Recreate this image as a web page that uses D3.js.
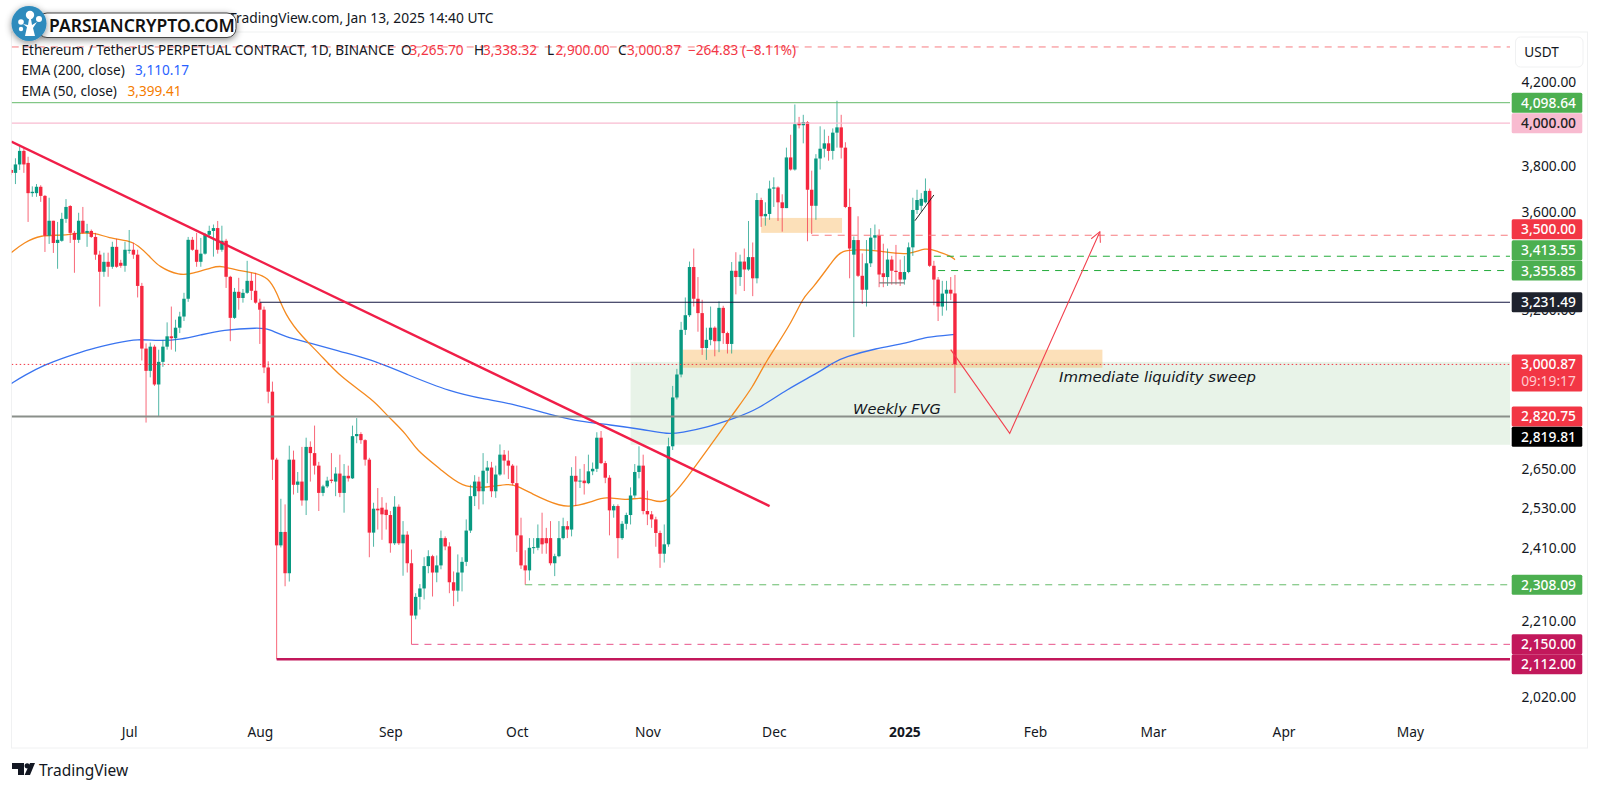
<!DOCTYPE html>
<html><head><meta charset="utf-8">
<script src="https://cdn.jsdelivr.net/npm/d3@7/dist/d3.min.js"></script>
<style>html,body{margin:0;padding:0;background:#fff}svg{display:block}</style>
</head><body><svg id="c" width="1600" height="790"></svg>
<script>
// daily candles, first bar 2024-06-03
const firstDay = "2024-06-03";
const opens = [3783,3770,3808,3870,3815,3680,3680,3708,3668,3498,
3561,3468,3477,3569,3624,3510,3481,3561,3510,3518,
3493,3420,3351,3391,3371,3452,3387,3375,3436,3440,
3420,3295,3058,2978,3065,2930,3010,3065,3103,3096,
3135,3177,3245,3481,3440,3391,3424,3502,3518,3530,
3440,3477,3331,3172,3272,3248,3268,3315,3276,3230,
3203,2990,2905,2679,2419,2458,2340,2679,2600,2610,
2552,2720,2700,2660,2575,2595,2616,2610,2635,2575,
2628,2620,2755,2762,2742,2679,2456,2527,2530,2524,
2508,2425,2533,2425,2450,2368,2225,2275,2298,2360,
2388,2342,2362,2440,2416,2315,2292,2342,2372,2462,
2565,2610,2580,2644,2654,2580,2632,2695,2676,2660,
2605,2448,2362,2348,2411,2412,2440,2440,2440,2368,
2388,2440,2475,2465,2628,2610,2613,2605,2642,2650,
2750,2668,2622,2522,2535,2440,2482,2508,2567,2640,
2660,2520,2510,2495,2455,2395,2422,2722,2885,2965,
3127,3182,3370,3245,3190,3060,3090,3135,3085,3210,
3115,3075,3355,3330,3392,3360,3410,3325,3650,3580,
3590,3700,3705,3640,3615,3840,3785,4002,3990,4005,
3695,3625,3835,3880,3905,3870,3955,3980,3885,3620,
3420,3480,3335,3280,3385,3490,3500,3345,3330,3400,
3355,3350,3320,3350,3450,3607,3625,3640,3690,3375,
3320,3215,3265,3280,3265.70];
const closes = [3770,3808,3870,3808,3680,3686,3708,3668,3498,3561,
3468,3481,3569,3620,3510,3481,3561,3510,3518,3493,
3420,3351,3391,3371,3452,3371,3375,3440,3440,3420,
3295,3058,2978,3065,2930,3010,3065,3103,3096,3135,
3177,3245,3481,3440,3391,3424,3502,3518,3530,3440,
3477,3331,3172,3272,3248,3268,3315,3276,3230,3203,
2990,2905,2679,2419,2458,2340,2679,2600,2610,2552,
2720,2700,2660,2575,2595,2613,2612,2635,2575,2628,
2620,2755,2762,2742,2679,2456,2527,2522,2510,2508,
2425,2533,2425,2450,2368,2225,2275,2298,2360,2388,
2342,2362,2440,2416,2315,2292,2342,2372,2462,2565,
2610,2580,2644,2654,2580,2632,2695,2676,2660,2605,
2448,2362,2348,2412,2414,2440,2422,2425,2368,2388,
2440,2475,2465,2628,2610,2613,2605,2642,2650,2750,
2668,2622,2522,2535,2440,2482,2508,2567,2640,2660,
2520,2510,2495,2455,2395,2422,2722,2885,2965,3127,
3182,3370,3245,3190,3060,3090,3135,3085,3210,3115,
3075,3355,3330,3392,3360,3410,3325,3650,3580,3590,
3700,3705,3640,3615,3840,3785,3995,3990,4005,3695,
3625,3835,3880,3905,3870,3955,3980,3885,3620,3445,
3480,3335,3280,3385,3490,3500,3340,3330,3400,3355,
3350,3320,3350,3450,3607,3650,3655,3690,3375,3320,
3215,3265,3280,3265,3000.87];
const highs = [3790,3836,3895,3882,3843,3710,3720,3715,3672,3660,
3561,3556,3595,3654,3628,3518,3595,3620,3548,3524,
3510,3436,3428,3428,3473,3485,3399,3473,3522,3469,
3440,3307,3077,3080,3072,3054,3090,3155,3215,3165,
3195,3268,3493,3493,3510,3489,3510,3540,3545,3560,
3540,3485,3335,3287,3327,3283,3395,3347,3347,3245,
3215,3012,2940,2685,2557,2540,2724,2708,2640,2720,
2750,2738,2790,2672,2600,2625,2700,2655,2695,2665,
2660,2790,2815,2768,2745,2685,2545,2590,2562,2545,
2520,2565,2540,2490,2460,2407,2285,2310,2385,2405,
2392,2390,2462,2445,2428,2345,2393,2385,2495,2600,
2630,2625,2700,2675,2672,2660,2728,2710,2708,2665,
2660,2500,2405,2440,2440,2480,2515,2470,2490,2395,
2490,2500,2490,2655,2690,2650,2665,2695,2670,2768,
2772,2675,2630,2540,2540,2490,2515,2592,2665,2722,
2695,2582,2520,2503,2462,2480,2750,2925,2985,3157,
3250,3392,3445,3330,3241,3135,3215,3140,3235,3218,
3120,3390,3430,3420,3445,3560,3470,3680,3660,3640,
3735,3750,3710,3675,3885,3945,4090,4030,4040,4010,
3780,3855,3985,3970,3940,3975,4108,4040,3910,3700,
3495,3580,3425,3480,3530,3545,3525,3465,3445,3415,
3460,3400,3415,3470,3660,3695,3680,3745,3700,3395,
3330,3315,3315,3330,3338.32];
const lows = [3760,3720,3783,3770,3556,3664,3664,3642,3431,3464,
3427,3363,3473,3552,3468,3347,3468,3506,3452,3489,
3399,3215,3331,3331,3363,3367,3367,3351,3424,3403,
3250,3015,2800,2955,2925,2820,2992,3054,3054,3047,
3115,3160,3233,3436,3371,3371,3420,3490,3412,3424,
3432,3287,3085,3168,3203,3230,3264,3240,3226,3075,
2970,2865,2615,2112,2413,2304,2317,2570,2575,2536,
2508,2610,2632,2520,2565,2590,2605,2565,2562,2515,
2610,2618,2732,2730,2660,2385,2415,2465,2435,2465,
2398,2420,2420,2333,2342,2150,2215,2241,2268,2340,
2276,2315,2351,2405,2285,2250,2262,2290,2360,2455,
2535,2525,2540,2605,2562,2560,2628,2632,2618,2598,
2400,2352,2308,2320,2395,2405,2395,2395,2362,2332,
2385,2436,2440,2445,2535,2590,2570,2602,2630,2640,
2665,2605,2448,2500,2382,2435,2465,2480,2560,2620,
2510,2478,2470,2415,2355,2370,2415,2710,2878,2955,
3108,3175,3215,3120,3035,3017,3070,3030,3045,3075,
3040,3040,3262,3295,3275,3355,3255,3305,3535,3540,
3565,3620,3560,3515,3615,3780,3780,3975,3905,3475,
3505,3565,3785,3840,3825,3830,3885,3835,3615,3325,
3100,3330,3225,3215,3370,3440,3290,3290,3295,3300,
3300,3295,3300,3345,3415,3590,3600,3635,3370,3220,
3160,3180,3200,3240,2900];

// EMA samples: [days after 2024-07-01, price]
const ema50 = [[-28,3428],[-25,3469],[-21,3502],[-16,3498],[-12,3510],[-8,3510],[-5,3489],[0,3477],[2,3460],[5,3411],[7,3371],[12,3335],[15,3343],[20,3371],[22,3375],[26,3355],[30,3347],[33,3327],[35,3272],[37,3184],[41,3101],[45,3043],[50,2957],[58,2877],[61,2826],[66,2760],[68,2711],[74,2648],[79,2591],[85,2591],[90,2604],[92,2597],[96,2570],[99,2552],[104,2527],[110,2549],[113,2564],[118,2552],[121,2561],[124,2555],[127,2540],[131,2594],[144,2843],[148,2919],[151,3010],[157,3146],[160,3253],[162,3280],[167,3395],[169,3440],[174,3440],[178,3436],[185,3415],[189,3452],[192,3432],[195,3415],[196,3399.41]];
const ema200 = [[-28,2933],[-25,2961],[-20,3000],[-15,3028],[-9,3058],[-3,3079],[2,3094],[7,3086],[12,3090],[17,3108],[22,3127],[31,3135],[33,3131],[37,3101],[43,3079],[50,3047],[57,3021],[66,2965],[76,2905],[85,2877],[90,2867],[101,2823],[107,2803],[114,2793],[122,2777],[128,2761],[131,2767],[137,2783],[144,2816],[149,2843],[156,2912],[164,2975],[167,3007],[170,3028],[177,3058],[185,3079],[189,3101],[196,3110.17]];

const monthTicks = ["2024-07-01","2024-08-01","2024-09-01","2024-10-01","2024-11-01","2024-12-01","2025-01-01","2025-02-01","2025-03-01","2025-04-01","2025-05-01"];
const monthLabels = ["Jul","Aug","Sep","Oct","Nov","Dec","2025","Feb","Mar","Apr","May"];
const priceTicks = [4200,3800,3600,3200,2650,2530,2410,2210,2020];

const trendDays = [-28,152], trendPrices = [3913,2535];
const sweepDays = [195,209,230.4], sweepPrices = [3054,2764,3515];
const blackTickDays = [186.5,191], blackTickPrices = [3561,3672];
const grayTickDays = [178,184], grayTickPrice = 3307;

const levelPrices = [4380, 4098.64, 4000, 3500, 3413.55, 3355.85, 3231.49, 3000.87, 2820.75, 2308.09, 2150, 2112];
const levelStartDays = [-28, -28, -28, 162, 191, 192, 31, -28, -28, 94, 67, 35];
const levelColors = ["#f77c80","#66bb6a","#f8bbd0","#f77c80","#22ab3a","#22ab3a","#131640","#f23645","#8a8f8a","#66bb6a","#e8538a","#c2185b"];
const levelDash = ["7,6","","","7,6","7,6","7,6","","1.5,2.5","","7,6","7,6",""];
const levelWidth = [1,1,1.4,1.2,1,1,1.2,1,2,1,1,2.4];

const axisTags = ["4,098.64","4,000.00","3,500.00","3,413.55","3,355.85","3,231.49","3,000.87","2,820.75","2,819.81","2,308.09","2,150.00","2,112.00"];
const axisTagPrices = [4098.64,4000,3500,3413.55,3355.85,3231.49,3000.87,2820.75,2819.81,2308.09,2150,2112];
const axisTagFills = ["#4caf50","#f8bbd0","#f23645","#4caf50","#4caf50","#1e222d","#f23645","#f23645","#000000","#4caf50","#c2185b","#c2185b"];
const axisTagInk = ["#fff","#222","#fff","#fff","#fff","#fff","#fff","#fff","#fff","#fff","#fff","#fff"];

const fvgPrices=[3010,2727], fvgDays=[119];
const zoneA={prices:[3054,2989],days:[131.4,231]};
const zoneB={prices:[3573,3510],days:[150,169.2]};

const headerOHLC = [["O","3,265.70"],["H","3,338.32"],["L","2,900.00"],["C","3,000.87"]];

// ---------- scales
const PLOT_L=11.7, PLOT_R=1510;
const parse = d3.utcParse("%Y-%m-%d");
const x = d3.scaleUtc().domain([parse("2024-07-01"),parse("2025-05-01")]).range([129.2,129.2+304*4.213]);
const y = d3.scaleLog().domain([4098.64,2112]).range([102.7,659.3]);
const DAY=864e5, d0=+parse("2024-07-01");
const xd = d=>x(new Date(d0+d*DAY));
const start=+parse(firstDay);
const candles=opens.map((o,i)=>({t:new Date(start+i*DAY),o,c:closes[i],h:highs[i],l:lows[i]}));

const FONT='"Noto Sans",sans-serif';
const svg=d3.select("#c").attr("font-family",FONT);
const defs=svg.append("defs");
defs.append("clipPath").attr("id","plot").append("rect").attr("x",PLOT_L).attr("y",32).attr("width",PLOT_R-PLOT_L).attr("height",716);
defs.append("marker").attr("id","head").attr("viewBox","0 0 12 12").attr("refX",11).attr("refY",6).attr("markerWidth",12).attr("markerHeight",12).attr("orient","auto").attr("markerUnits","userSpaceOnUse")
 .append("path").attr("d","M1,1L11,6L1,11").attr("fill","none").attr("stroke","#f2414f").attr("stroke-width",1);
const f=defs.append("filter").attr("id","sh").attr("x","-20%").attr("y","-40%").attr("width","140%").attr("height","200%");
f.append("feDropShadow").attr("dx",0).attr("dy",2).attr("stdDeviation",3.5).attr("flood-color","#000").attr("flood-opacity",.45);

// frame
svg.append("rect").attr("x",11.5).attr("y",32).attr("width",1576).attr("height",716).attr("fill","#fff").attr("stroke","#f0f1f2");

// header line
svg.append("text").attr("x",229).attr("y",23).attr("font-size",13.8).attr("fill","#131722").text("TradingView.com, Jan 13, 2025 14:40 UTC");

const plot=svg.append("g").attr("clip-path","url(#plot)");
// zones
plot.append("rect").attr("x",xd(fvgDays[0])).attr("width",PLOT_R-xd(fvgDays[0])).attr("y",y(fvgPrices[0])).attr("height",y(fvgPrices[1])-y(fvgPrices[0])).attr("fill","#e8f3e8");
[zoneA,zoneB].forEach(z=>plot.append("rect").attr("x",xd(z.days[0])).attr("width",xd(z.days[1])-xd(z.days[0])).attr("y",y(z.prices[0])).attr("height",y(z.prices[1])-y(z.prices[0])).attr("fill","#f7a83c").attr("opacity",.36));

// EMAs
const line=d3.line().x(d=>xd(d[0])).y(d=>y(d[1])).curve(d3.curveBasis);
plot.append("path").attr("d",line(ema200)).attr("fill","none").attr("stroke","#3a74f0").attr("stroke-width",1.3);
plot.append("path").attr("d",line(ema50)).attr("fill","none").attr("stroke","#f58a1f").attr("stroke-width",1.3);

// candles
const UP="#089981", DN="#f5273f";
const cg=plot.append("g").selectAll("g").data(candles).join("g");
cg.append("line").attr("x1",d=>x(d.t)).attr("x2",d=>x(d.t)).attr("y1",d=>y(d.h)).attr("y2",d=>y(d.l)).attr("stroke",d=>d.c>=d.o?UP:DN).attr("stroke-width",1).attr("opacity",.7);
cg.append("rect").attr("x",d=>x(d.t)-1.7).attr("width",3.4).attr("y",d=>y(Math.max(d.o,d.c))).attr("height",d=>Math.max(1,Math.abs(y(d.o)-y(d.c)))).attr("fill",d=>d.c>=d.o?UP:DN);

// horizontal levels
levelPrices.forEach((p,i)=>{
  plot.append("line").attr("x1",Math.max(PLOT_L,xd(levelStartDays[i]))).attr("x2",PLOT_R).attr("y1",y(p)).attr("y2",y(p))
   .attr("stroke",levelColors[i]).attr("stroke-width",levelWidth[i]).attr("stroke-dasharray",levelDash[i]||null);
});

// drawings
const seg=(ds,ps)=>d3.line()(ds.map((d,i)=>[xd(d),y(ps[i])]));
plot.append("path").attr("d",seg(trendDays,trendPrices)).attr("stroke","#f01e48").attr("stroke-width",2.4).attr("fill","none");
plot.append("path").attr("d",seg(sweepDays,sweepPrices)).attr("stroke","#f2414f").attr("stroke-width",1.1).attr("fill","none").attr("marker-end","url(#head)");
plot.append("path").attr("d",seg(blackTickDays,blackTickPrices)).attr("stroke","#222").attr("stroke-width",1).attr("fill","none");
plot.append("path").attr("d",seg(grayTickDays,[grayTickPrice,grayTickPrice])).attr("stroke","#777").attr("stroke-width",1.2).attr("fill","none");

// annotations
const NOTE='"DejaVu Sans",sans-serif';
plot.append("text").attr("x",1059).attr("y",382).attr("font-family",NOTE).attr("font-style","oblique").attr("font-size",14.9).attr("fill","#131722").text("Immediate liquidity sweep");
plot.append("text").attr("x",853).attr("y",414).attr("font-family",NOTE).attr("font-style","oblique").attr("font-size",14.6).attr("fill","#131722").text("Weekly FVG");

// price axis
const yAxis=d3.axisRight(y).tickValues(priceTicks).tickSize(0).tickPadding(0).tickFormat(d3.format(",.2f"));
const ya=svg.append("g").attr("transform","translate(1521.5,0)").call(yAxis);
ya.select(".domain").remove();
ya.selectAll("text").attr("font-size",13.8).attr("font-family",FONT).attr("fill","#131722");

// time axis
const xAxis=d3.axisBottom(x).tickValues(monthTicks.map(parse)).tickSize(0).tickPadding(0).tickFormat((d,i)=>monthLabels[i]);
const xa=svg.append("g").attr("transform","translate(0,727)").call(xAxis);
xa.select(".domain").remove();
xa.selectAll("text").attr("font-size",13.8).attr("font-family",FONT).attr("fill","#131722").attr("font-weight",(d,i)=>monthLabels[i]==="2025"?"700":"400");

// price tags
const tagShift={"3,500.00":-6,"3,413.55":-6,"2,819.81":20,"2,112.00":5};
axisTags.forEach((t,i)=>{
  const cy=y(axisTagPrices[i])+(tagShift[t]||0);
  const tall=t==="3,000.87";
  const h=tall?37:20;
  svg.append("rect").attr("x",1511.7).attr("y",cy-10).attr("width",70.6).attr("height",h).attr("rx",1.5).attr("fill",axisTagFills[i]);
  svg.append("text").attr("x",1548.5).attr("y",cy+5).attr("text-anchor","middle").attr("font-size",13.8).attr("font-weight",500).attr("fill",axisTagInk[i]).text(t);
  if(tall) svg.append("text").attr("x",1548.5).attr("y",cy+22).attr("text-anchor","middle").attr("font-size",13.8).attr("fill","#ffc9ce").text("09:19:17");
});

// USDT button
svg.append("rect").attr("x",1515.5).attr("y",37).attr("width",67.5).attr("height",30).attr("rx",5).attr("fill","#fff").attr("stroke","#f0f1f2");
svg.append("text").attr("x",1541.5).attr("y",57).attr("text-anchor","middle").attr("font-size",13.6).attr("fill","#131722").text("USDT");

// legend
const legend=svg.append("text").attr("x",21.5).attr("y",54.5).attr("font-size",13.6).attr("fill","#131722");
legend.append("tspan").text("Ethereum / TetherUS PERPETUAL CONTRACT, 1D, BINANCE");
const keyX=[401,474,547,618], valX=[409.5,483,555.5,627];
headerOHLC.forEach(([k,v],i)=>{legend.append("tspan").attr("x",keyX[i]).text(k);legend.append("tspan").attr("x",valX[i]).attr("fill","#f23645").text(v);});
legend.append("tspan").attr("x",688).attr("fill","#f23645").text("−264.83 (−8.11%)");
const l2=svg.append("text").attr("x",21.5).attr("y",75).attr("font-size",13.6).attr("fill","#131722");
l2.append("tspan").text("EMA (200, close)");l2.append("tspan").attr("x",135).attr("fill","#2962ff").text("3,110.17");
const l3=svg.append("text").attr("x",21.5).attr("y",95.5).attr("font-size",13.6).attr("fill","#131722");
l3.append("tspan").text("EMA (50, close)");l3.append("tspan").attr("x",127.5).attr("fill","#f57c00").text("3,399.41");

// brand badge
const b=svg.append("g");
b.append("rect").attr("x",38).attr("y",13).attr("width",198).attr("height",24.5).attr("rx",9).attr("fill","#fff").attr("stroke","#444").attr("filter","url(#sh)");
b.append("circle").attr("cx",29).attr("cy",23.5).attr("r",17.5).attr("fill","#2e8bbd").attr("filter","url(#sh)");
b.append("text").attr("x",49).attr("y",31.5).attr("font-size",17.5).attr("font-weight",600).attr("fill","#111").text("PARSIANCRYPTO.COM");
const tree=b.append("g").attr("fill","#fff");
[[30,15,4.2],[21,22,2.8],[39,19,3],[21,29,2.2]].forEach(c=>tree.append("circle").attr("cx",c[0]).attr("cy",c[1]).attr("r",c[2]));
tree.append("path").attr("d","M25,36L27,27L23,24L28,25L29,19L31,19L32,25L37,22L33,28L35,36Z");

// footer logo
const tv=svg.append("g").attr("fill","#131722");
tv.append("path").attr("d","M12,763H24V775H18V769H12Z");
tv.append("circle").attr("cx",27.2).attr("cy",765.8).attr("r",2.6);
tv.append("path").attr("d","M30,763H35L30,775H24.6Z");
tv.append("text").attr("x",39).attr("y",775.5).attr("font-size",15.5).text("TradingView");
</script></body></html>
